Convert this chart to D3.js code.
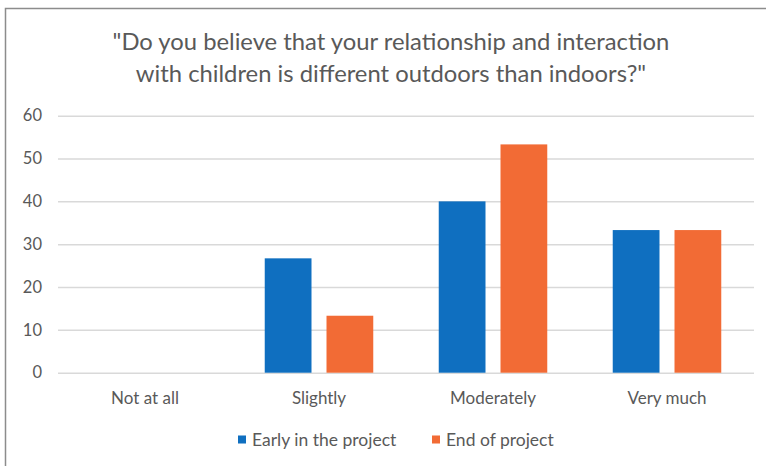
<!DOCTYPE html>
<html><head><meta charset="utf-8">
<script src="https://cdn.jsdelivr.net/npm/d3@7"></script>
<style>html,body{margin:0;padding:0;background:#fff;}svg{display:block;font-family:Lato,"Open Sans",sans-serif;}</style>
</head><body>
<svg id="c" width="766" height="466"></svg>
<script>
const categories = ["Not at all", "Slightly", "Moderately", "Very much"];
const seriesNames = ["Early in the project", "End of project"];
const earlyValues = [0, 26.7, 40, 33.3];
const endValues = [0, 13.3, 53.3, 33.3];
const yTicks = [0, 10, 20, 30, 40, 50, 60];
const titleLines = ["\"Do you believe that your relationship and interaction", "with children is different outdoors than indoors?\""];
const colors = ["#0F6FC0", "#F26B35"];

const svg = d3.select("#c");
const plotLeft = 58, plotRight = 754, plotTop = 115.7, plotBottom = 372.7;

svg.append("rect").attr("x", 5.5).attr("y", 8.5).attr("width", 800).attr("height", 500)
  .attr("fill", "none").attr("stroke", "#8c8c8c").attr("stroke-width", 1.5);

const x0 = d3.scaleBand().domain(categories).range([plotLeft, plotRight]).paddingInner(0).paddingOuter(0);
const x1 = d3.scaleBand().domain(seriesNames).range([0, x0.bandwidth()]).paddingInner(0.243).paddingOuter(0.53);
const y = d3.scaleLinear().domain([0, 60]).range([plotBottom, plotTop]);

// title
const t = svg.append("g");
const tl = titleLines.map((s, i) => t.append("text").attr("x", 391).attr("y", 50 + i * 31.5)
  .attr("text-anchor", "middle").attr("fill", "#595959").attr("font-size", 23).text(s));
const w0 = tl[0].node().getComputedTextLength();
const fs = 23 * 557 / w0;
tl.forEach(n => n.attr("font-size", fs));

// grid
const yAxis = d3.axisLeft(y).tickValues(yTicks).tickSize(-(plotRight - plotLeft)).tickPadding(16);
const ga = svg.append("g").attr("transform", `translate(${plotLeft},0)`).call(yAxis);
ga.select(".domain").remove();
ga.selectAll(".tick line").attr("stroke", "#d9d9d9").attr("stroke-width", 1.5);
ga.selectAll(".tick text").attr("fill", "#595959").attr("font-size", 16.5).attr("font-family", "Lato,sans-serif");

// bars
const rows = categories.map((c, i) => ({ c, v: [earlyValues[i], endValues[i]] }));
const g = svg.append("g");
rows.forEach(r => {
  r.v.forEach((v, j) => {
    if (v <= 0) return;
    g.append("rect").attr("x", x0(r.c) + x1(seriesNames[j])).attr("width", x1.bandwidth())
      .attr("y", y(v)).attr("height", y(0) - y(v)).attr("fill", colors[j]);
  });
});

// x axis labels
const xAxis = d3.axisBottom(x0).tickSize(0).tickPadding(19);
const gx = svg.append("g").attr("transform", `translate(0,${plotBottom})`).call(xAxis);
gx.select(".domain").remove();
gx.selectAll(".tick text").attr("fill", "#595959").attr("font-size", 17).attr("font-family", "Lato,sans-serif");

// legend
const leg = svg.append("g");
const lx = [238, 432];
seriesNames.forEach((s, i) => {
  leg.append("rect").attr("x", lx[i]).attr("y", 435.5).attr("width", 8).attr("height", 8).attr("fill", colors[i]);
  leg.append("text").attr("x", lx[i] + 14).attr("y", 446).attr("fill", "#595959").attr("font-size", 17.5).text(s);
});
</script>
</body></html>
